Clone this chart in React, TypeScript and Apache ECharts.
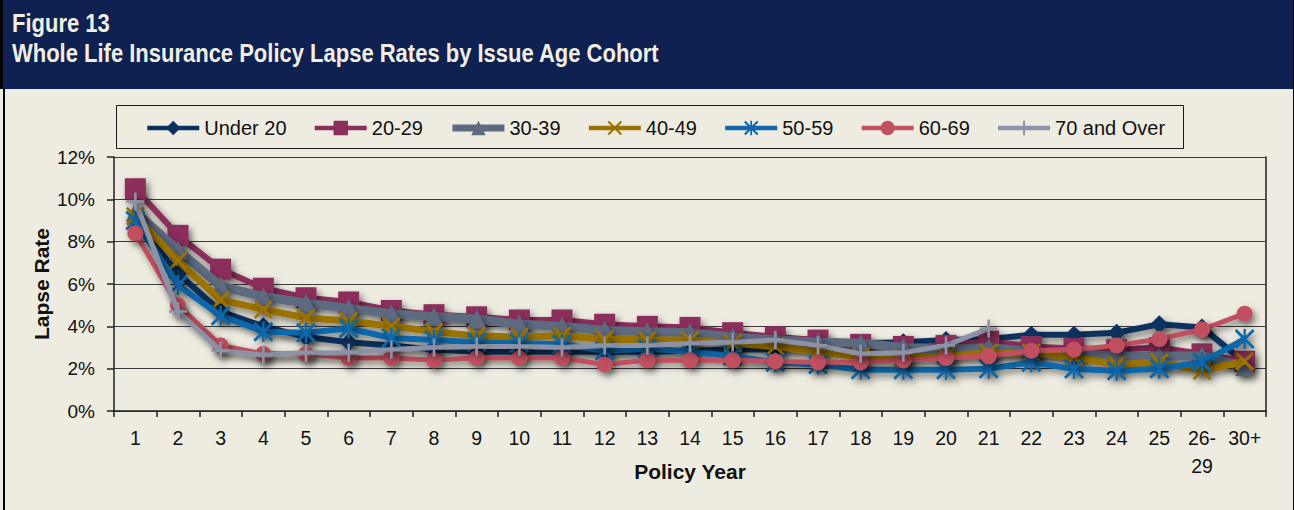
import React, { useEffect, useRef } from 'react';
import * as echarts from 'echarts';

const categories = ['1','2','3','4','5','6','7','8','9','10','11','12','13','14','15','16','17','18','19','20','21','22','23','24','25','26-\n29','30+'];
const seriesNames = ['Under 20', '20-29', '30-39', '40-49', '50-59', '60-69', '70 and Over'];
const yTicks = [0, 2, 4, 6, 8, 10, 12];

const under20 = [9.0, 6.5, 4.7, 4.0, 3.5, 3.25, 3.1, 2.9, 2.8, 2.8, 2.8, 2.8, 2.8, 2.85, 2.9, 2.9, 3.0, 3.2, 3.25, 3.35, 3.4, 3.6, 3.6, 3.7, 4.1, 3.95, 2.3];
const age20to29 = [10.5, 8.3, 6.7, 5.8, 5.35, 5.15, 4.75, 4.55, 4.45, 4.3, 4.3, 4.1, 4.0, 3.95, 3.7, 3.5, 3.35, 3.15, 3.05, 3.1, 3.3, 3.05, 2.95, 2.9, 3.0, 2.7, 2.35];
const age30to39 = [9.4, 7.6, 5.9, 5.4, 5.1, 4.85, 4.6, 4.45, 4.35, 4.1, 4.0, 3.8, 3.75, 3.7, 3.5, 3.35, 3.25, 3.2, 3.0, 2.9, 3.0, 2.8, 2.7, 2.6, 2.6, 2.6, 2.1];
const age40to49 = [9.2, 7.1, 5.25, 4.8, 4.4, 4.25, 4.0, 3.75, 3.55, 3.5, 3.55, 3.4, 3.35, 3.35, 3.2, 3.05, 2.8, 2.55, 2.5, 2.6, 2.75, 2.75, 2.55, 2.2, 2.3, 1.9, 2.35];
const age50to59 = [9.0, 5.95, 4.5, 3.75, 3.7, 3.9, 3.45, 3.35, 3.25, 3.2, 3.15, 2.85, 2.95, 2.8, 2.6, 2.3, 2.2, 1.95, 1.95, 1.95, 2.0, 2.3, 1.98, 1.9, 2.0, 2.3, 3.4];
const age60to69 = [8.4, 5.0, 3.1, 2.7, 2.7, 2.5, 2.5, 2.4, 2.5, 2.5, 2.5, 2.2, 2.4, 2.4, 2.4, 2.35, 2.3, 2.3, 2.4, 2.5, 2.6, 2.85, 2.9, 3.1, 3.4, 3.85, 4.6];
const age70plus = [9.9, 4.7, 2.85, 2.65, 2.75, 2.75, 2.9, 3.0, 3.05, 3.05, 3.0, 3.1, 3.1, 3.2, 3.25, 3.35, 3.1, 2.7, 2.75, 3.1, 3.9, null, null, null, null, null, null];

const seriesData = [under20, age20to29, age30to39, age40to49, age50to59, age60to69, age70plus];

const FONT = "'Liberation Sans', Arial, sans-serif";

const SYM_X = 'path://M1,0 L5,4 L9,0 L10,1 L6,5 L10,9 L9,10 L5,6 L1,10 L0,9 L4,5 L0,1 Z';
const SYM_AST = 'path://M1,0 L5,4 L9,0 L10,1 L6,5 L10,9 L9,10 L5,6 L1,10 L0,9 L4,5 L0,1 Z M4.4,0 L5.6,0 L5.6,10 L4.4,10 Z';
const SYM_PLUS = 'path://M4.3,0 L5.7,0 L5.7,4.3 L10,4.3 L10,5.7 L5.7,5.7 L5.7,10 L4.3,10 L4.3,5.7 L0,5.7 L0,4.3 L4.3,4.3 Z';

const styles = [
  { color: '#0E3160', width: 6, symbol: 'diamond', size: 18, legendWidth: 4.5 },
  { color: '#8C2D5C', width: 6, symbol: 'rect', size: 21, legendWidth: 4.5 },
  { color: '#5D6A80', width: 9, symbol: 'triangle', size: 19, legendWidth: 7 },
  { color: '#9C7300', width: 7, symbol: SYM_X, size: 19, legendWidth: 4.5 },
  { color: '#1067AB', width: 6, symbol: SYM_AST, size: 20, legendWidth: 4.5 },
  { color: '#C2505F', width: 5, symbol: 'circle', size: 16, legendWidth: 4.5 },
  { color: '#8D93A6', width: 5, symbol: SYM_PLUS, size: 18, legendWidth: 4.5 },
];

export default function App() {
  const ref = useRef<HTMLDivElement>(null);
  useEffect(() => {
    document.body.style.margin = '0';
    const chart = echarts.init(ref.current!, undefined, { renderer: 'svg' });
    const shadow = {
      shadowColor: 'rgba(0,0,0,0.5)',
      shadowBlur: 7,
      shadowOffsetX: 3,
      shadowOffsetY: 4,
    };
    chart.setOption({
      animation: false,
      backgroundColor: '#EEECE1',
      textStyle: { fontFamily: FONT },
      graphic: [
        { type: 'rect', shape: { x: 3, y: 0, width: 1290, height: 89 }, style: { fill: '#0E2150' }, z: -10 },
        { type: 'rect', shape: { x: 0, y: 0, width: 3, height: 89 }, style: { fill: '#000' }, z: -9 },
        { type: 'rect', shape: { x: 3, y: 89, width: 2, height: 421 }, style: { fill: '#000' }, z: -9 },
        { type: 'rect', shape: { x: 1293, y: 0, width: 1, height: 510 }, style: { fill: '#000' }, z: -9 },
        { type: 'rect', shape: { x: 116.5, y: 105.5, width: 1067, height: 43 }, style: { fill: 'none', stroke: '#1a1a1a', lineWidth: 1 }, z: -8 },
        { type: 'text', x: 12, y: 24, scaleX: 0.88, style: { text: 'Figure 13', fill: '#F1EFE3', font: `bold 25px ${FONT}`, verticalAlign: 'middle' } },
        { type: 'text', x: 12, y: 54, scaleX: 0.88, style: { text: 'Whole Life Insurance Policy Lapse Rates by Issue Age Cohort', fill: '#F1EFE3', font: `bold 25px ${FONT}`, verticalAlign: 'middle' } },
      ],
      legend: {
        data: seriesNames.map((name, i) => ({
          name,
          lineStyle: { width: styles[i].legendWidth, shadowBlur: 0, shadowOffsetX: 0, shadowOffsetY: 0, shadowColor: 'transparent' },
          itemStyle: { shadowBlur: 0, shadowOffsetX: 0, shadowOffsetY: 0, shadowColor: 'transparent' },
        })),
        left: 145,
        top: 118,
        itemWidth: 52,
        itemHeight: 18,
        itemGap: 26,
        padding: 0,
        textStyle: { fontSize: 20, color: '#111', fontFamily: FONT },
      },
      grid: { left: 114, right: 28, top: 157, bottom: 99 },
      xAxis: {
        type: 'category',
        data: categories,
        boundaryGap: true,
        name: 'Policy Year',
        nameLocation: 'middle',
        nameGap: 50,
        nameMoveOverlap: false,
        nameTextStyle: { fontSize: 21, fontWeight: 'bold', color: '#111', fontFamily: FONT },
        axisLine: { lineStyle: { color: '#222', width: 1.5 } },
        axisTick: { show: true, length: 6, lineStyle: { color: '#222', width: 1.5 } },
        axisLabel: { interval: 0, fontSize: 19.5, lineHeight: 28, color: '#111', margin: 13, fontFamily: FONT },
        splitLine: { show: false },
      },
      yAxis: [
        {
          type: 'value',
          min: yTicks[0],
          max: yTicks[yTicks.length - 1],
          interval: 2,
          name: 'Lapse Rate',
          nameLocation: 'middle',
          nameGap: 62,
          nameMoveOverlap: false,
          nameTextStyle: { fontSize: 21, fontWeight: 'bold', color: '#111', fontFamily: FONT },
          axisLine: { show: true, lineStyle: { color: '#222', width: 1.5 } },
          axisTick: { show: true, length: 7, lineStyle: { color: '#222', width: 1.5 } },
          axisLabel: { fontSize: 19, color: '#111', margin: 19, formatter: '{value}%', fontFamily: FONT },
          splitLine: { show: true, lineStyle: { color: '#3a3a3a', width: 1.2 } },
        },
        {
          type: 'value',
          position: 'right',
          min: yTicks[0],
          max: yTicks[yTicks.length - 1],
          interval: 2,
          axisLine: { show: true, lineStyle: { color: '#222', width: 1.5 } },
          axisTick: { show: false },
          axisLabel: { show: false },
          splitLine: { show: false },
        },
      ],
      series: seriesNames.map((name, i) => ({
        name,
        type: 'line',
        data: seriesData[i],
        symbol: styles[i].symbol,
        symbolSize: styles[i].size,
        showAllSymbol: true,
        connectNulls: false,
        z: 2 + i,
        lineStyle: { color: styles[i].color, width: styles[i].width, ...shadow },
        itemStyle: { color: styles[i].color, ...shadow },
      })),
    });
    return () => chart.dispose();
  }, []);
  return <div ref={ref} style={{ width: 1294, height: 510 }} />;
}
